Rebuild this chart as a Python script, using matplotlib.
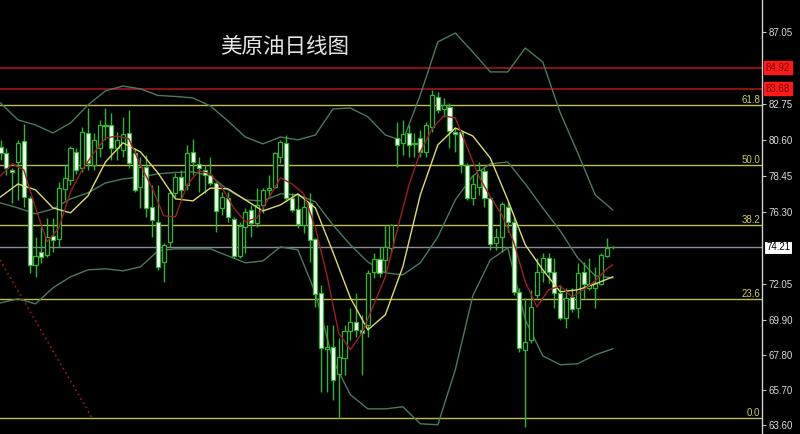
import matplotlib
matplotlib.use('Agg')
import matplotlib.pyplot as plt
from matplotlib.patches import Rectangle
import matplotlib.transforms as mtransforms

plt.rcParams['font.family'] = ['Liberation Sans', 'DejaVu Sans']

# ---- candle data (daily, oldest -> newest) ----
opens = [80.20, 79.84, 78.83, 79.30, 80.56, 77.16, 73.17, 73.94, 73.76, 74.89,
         74.72, 77.70, 78.23, 79.90, 78.95, 81.03, 79.13, 80.14, 81.51, 81.51,
         80.14, 80.02, 81.03, 79.84, 77.81, 79.01, 76.62, 75.73, 73.34, 74.54,
         77.46, 78.41, 77.93, 79.90, 79.19, 78.83, 78.53, 78.05, 76.56, 77.16,
         75.91, 73.70, 75.43, 76.44, 75.67, 76.74, 77.64, 77.81, 79.60, 80.44,
         77.16, 76.50, 75.55, 76.86, 74.72, 71.50, 68.16, 68.28, 66.67, 67.62,
         69.23, 69.77, 69.29, 69.59, 72.75, 73.52, 73.46, 74.18, 80.73, 80.44,
         81.03, 80.44, 80.73, 79.90, 81.39, 83.18, 82.46, 82.58, 81.09, 81.09,
         79.13, 77.16, 77.81, 78.77, 77.16, 74.48, 74.83, 76.62, 75.73, 71.56,
         68.10, 68.70, 71.38, 72.75, 73.58, 72.75, 71.50, 70.01, 71.26, 70.60,
         72.75, 71.80, 71.80, 72.03, 73.70, 74.21]
highs = [80.62, 80.14, 78.95, 80.62, 81.57, 77.28, 74.83, 75.43, 75.97, 75.97,
         78.11, 79.13, 80.26, 80.14, 81.39, 82.52, 81.03, 81.81, 82.52, 82.23,
         81.09, 81.99, 82.40, 80.14, 79.60, 79.72, 77.93, 77.93, 74.48, 77.64,
         78.65, 78.83, 80.32, 80.68, 79.60, 79.13, 79.60, 78.23, 77.52, 77.52,
         76.03, 75.73, 76.56, 76.74, 77.75, 77.75, 78.53, 79.90, 80.62, 80.91,
         77.46, 77.34, 77.34, 77.46, 74.78, 71.97, 69.59, 69.59, 68.82, 69.59,
         70.60, 71.50, 70.19, 72.87, 73.88, 74.24, 75.55, 75.61, 81.69, 81.81,
         81.51, 81.03, 81.21, 81.69, 83.60, 83.48, 83.12, 82.82, 81.33, 81.15,
         79.25, 78.53, 79.30, 79.01, 77.22, 75.37, 76.92, 76.92, 76.03, 71.80,
         71.20, 71.68, 73.58, 73.88, 73.88, 73.58, 71.97, 71.80, 71.80, 73.29,
         73.34, 73.58, 73.05, 73.88, 74.78, 74.30]
lows = [79.42, 78.53, 76.86, 77.04, 76.62, 72.69, 72.45, 73.29, 73.64, 73.94,
        74.24, 77.04, 77.93, 78.59, 78.71, 78.83, 78.83, 79.60, 80.62, 79.42,
        79.42, 79.60, 78.95, 77.52, 76.56, 76.03, 74.83, 72.87, 72.15, 74.24,
        77.22, 77.04, 77.64, 78.53, 77.52, 77.46, 77.93, 75.13, 76.15, 75.73,
        73.58, 73.58, 73.88, 74.83, 75.43, 76.27, 77.16, 77.75, 79.25, 77.04,
        76.32, 75.37, 75.07, 73.34, 70.66, 65.60, 65.60, 65.12, 64.05, 66.61,
        68.70, 68.87, 66.61, 68.87, 72.39, 72.45, 72.75, 73.88, 79.01, 79.72,
        79.60, 79.60, 79.60, 79.60, 81.09, 82.23, 81.99, 80.14, 79.90, 78.65,
        77.04, 76.74, 77.34, 76.62, 74.06, 74.06, 73.94, 75.13, 71.38, 67.98,
        63.51, 68.52, 71.20, 72.15, 72.09, 70.60, 69.89, 69.41, 70.36, 70.01,
        71.20, 71.68, 70.60, 71.97, 73.64, 74.12]
closes = [79.84, 78.95, 78.71, 80.44, 77.22, 73.17, 73.70, 73.64, 74.83, 74.66,
          77.75, 78.35, 80.14, 78.83, 81.09, 79.25, 80.62, 81.51, 81.45, 80.14,
          80.62, 80.97, 79.25, 77.64, 79.01, 76.56, 75.85, 73.05, 74.36, 77.46,
          78.41, 77.64, 79.84, 79.30, 78.95, 78.53, 78.05, 76.38, 77.22, 76.03,
          73.70, 75.49, 76.32, 75.67, 76.74, 77.64, 77.75, 79.84, 80.50, 77.16,
          76.44, 75.61, 76.62, 74.66, 71.44, 68.22, 68.28, 66.31, 67.68, 69.23,
          69.77, 69.29, 69.11, 72.69, 73.52, 72.69, 74.24, 75.55, 80.32, 80.97,
          80.32, 80.38, 79.90, 81.51, 83.30, 82.40, 82.70, 81.15, 80.97, 79.13,
          77.16, 77.99, 78.83, 77.16, 74.42, 74.83, 76.80, 75.73, 71.56, 68.22,
          68.58, 70.66, 72.75, 73.58, 72.75, 71.50, 70.01, 71.20, 70.54, 72.69,
          72.03, 72.03, 72.09, 73.76, 74.18, 74.21]

# ---- indicator lines ----
ma_fast_idx = list(range(0, 105, 2)) + [105]
ma_fast = [78.47, 79.19, 78.83, 76.56, 74.54, 75.37, 77.52, 78.83, 79.84, 80.73,
           80.85, 80.68, 79.13, 77.75, 76.09, 76.03, 77.93, 78.77, 78.59, 77.75,
           76.56, 75.73, 75.97, 77.16, 78.35, 77.99, 77.40, 75.37, 72.51, 69.11,
           68.10, 69.11, 70.78, 72.45, 75.19, 77.87, 79.90, 81.27, 82.05, 81.93,
           80.20, 78.47, 77.22, 76.15, 74.54, 72.15, 70.66, 71.68, 71.91, 71.26,
           71.68, 72.21, 72.93, 73.17]

band_idx = list(range(0, 106, 3))
ma_slow = [77.22, 77.99, 77.64, 76.56, 76.27, 77.28, 79.30, 80.44, 79.90, 78.65,
           77.10, 76.98, 77.75, 77.70, 77.04, 76.38, 76.74, 77.40, 76.56, 73.94,
           71.20, 69.29, 70.19, 73.05, 77.34, 80.32, 81.33, 80.85, 79.54, 77.04,
           74.36, 72.87, 71.56, 71.68, 72.03, 72.45]
bb_upper = [82.82, 81.81, 81.51, 81.03, 81.63, 82.70, 83.54, 83.83, 83.66, 83.27,
            83.21, 83.12, 82.64, 81.75, 80.79, 80.38, 80.79, 80.62, 80.91, 82.46,
            82.52, 81.99, 80.91, 80.56, 83.30, 86.46, 86.99, 85.86, 84.67, 84.67,
            86.10, 85.26, 82.23, 79.84, 77.34, 76.44]
bb_mid = [76.86, 76.56, 76.21, 76.50, 77.10, 77.46, 78.05, 78.29, 78.41, 78.59,
          78.68, 78.71, 78.47, 77.64, 77.04, 76.98, 77.40, 77.34, 76.92, 75.55,
          74.36, 73.34, 72.69, 72.57, 73.29, 74.83, 77.04, 78.47, 79.19, 79.30,
          77.99, 76.56, 75.19, 73.58, 72.51, 72.39]
bb_lower = [70.90, 71.14, 70.84, 71.80, 72.45, 72.87, 72.93, 72.81, 73.05, 74.00,
            74.12, 74.12, 74.12, 73.70, 73.29, 73.40, 74.24, 74.06, 71.50, 67.50,
            65.42, 64.58, 64.58, 64.70, 63.69, 63.63, 66.91, 71.32, 73.46, 74.18,
            69.89, 67.74, 67.21, 67.27, 67.80, 68.16]

# ---- levels ----
resist_levels = [84.92, 83.68]
last_price = 74.21
fib_low, fib_high = 64.03, 94.21
fib_pcts = [0.0, 23.6, 38.2, 50.0, 61.8]
fib_names = ['0.0', '23.6', '38.2', '50.0', '61.8']
trend_x = [-0.09, 15.7]
trend_y = [73.46, 64.05]
ytick_vals = [87.05, 82.75, 80.60, 78.45, 76.30, 72.05, 69.90, 67.80, 65.70, 63.60]
ytick_text = ['87.05', '82.75', '80.60', '78.45', '76.30', '72.05', '69.90', '67.80', '65.70', '63.60']
title = '美原油日线图'

# ---- figure ----
fig = plt.figure(figsize=(8.0, 4.34), dpi=100, facecolor='black')
ax = fig.add_axes([0, 0, 762 / 800, 1])
ax.set_facecolor('black')
ax.set_xlim(-0.09, 130.6)
ax.set_ylim(63.08, 88.96)

green = '#2fb82f'
band_col = '#4c7a5c'
fib_col = '#bdbd55'

# horizontal levels
for lv in resist_levels:
    ax.axhline(lv, color='#a51515', lw=1.2, zorder=1)
for p, name in zip(fib_pcts, fib_names):
    lvl = fib_low + p / 100.0 * (fib_high - fib_low)
    ax.axhline(lvl, color=fib_col, lw=1.0, zorder=1)
    ax.text(1.0 - 2 / 762, lvl, name, transform=mtransforms.blended_transform_factory(ax.transAxes, ax.transData),
            ha='right', va='bottom', fontsize=7, color='#cfcf5a', zorder=5)
ax.axhline(last_price, color='#8a8a9a', lw=1.0, zorder=1)

# trend line
ax.plot(trend_x, trend_y, color='#a01c1c', lw=1.2, linestyle=(0, (1, 2)), zorder=2)

# bollinger bands
for series in (bb_upper, bb_mid, bb_lower):
    ax.plot(band_idx, series, color=band_col, lw=1.0, zorder=2)

# candles
bw = 0.7
for i in range(len(opens)):
    o, h, l, c = opens[i], highs[i], lows[i], closes[i]
    ax.vlines(i, l, h, color=green, lw=1.0, zorder=3)
    bottom = min(o, c)
    height = max(abs(c - o), 0.02)
    face = 'white' if c < o else 'black'
    ax.add_patch(Rectangle((i - bw / 2, bottom), bw, height, facecolor=face,
                           edgecolor=green, lw=0.9, zorder=4))

# moving averages
ax.plot(band_idx, ma_slow, color='#dede6a', lw=1.0, zorder=5)
ax.plot(ma_fast_idx, ma_fast, color='#9c1f24', lw=1.0, zorder=5)

# axis styling
for s in ('top', 'bottom', 'left'):
    ax.spines[s].set_visible(False)
ax.spines['right'].set_color('#d0d0d0')
ax.spines['right'].set_linewidth(1.0)
ax.set_xticks([])
ax.yaxis.tick_right()
ax.set_yticks(ytick_vals)
ax.set_yticklabels(ytick_text)
ax.tick_params(axis='y', length=3, width=0.8, color='#c8c8c8', labelsize=7,
               labelcolor='#dcdcdc', pad=1.5)

blend = mtransforms.blended_transform_factory(ax.transAxes, ax.transData)
for lv in resist_levels:
    ax.text(1.0 + 4 / 762, lv, f'{lv:.2f}', transform=blend, ha='left', va='center',
            fontsize=7, color='#7a0000',
            bbox=dict(boxstyle='square,pad=0.18', fc='#ff1a1a', ec='#ff1a1a'), zorder=6)
ax.text(1.0 + 4 / 762, last_price, f'{last_price:.2f}', transform=blend, ha='left', va='center',
        fontsize=7, color='black',
        bbox=dict(boxstyle='square,pad=0.18', fc='white', ec='black', lw=0.8), zorder=6)

fig.text(220 / 800, 1 - 47 / 434, title, ha='left', va='center', fontsize=15.5,
         color='#e6e6e6', family=['Noto Sans CJK SC', 'DejaVu Sans'])

fig.savefig('out.png', dpi=100, facecolor='black')
